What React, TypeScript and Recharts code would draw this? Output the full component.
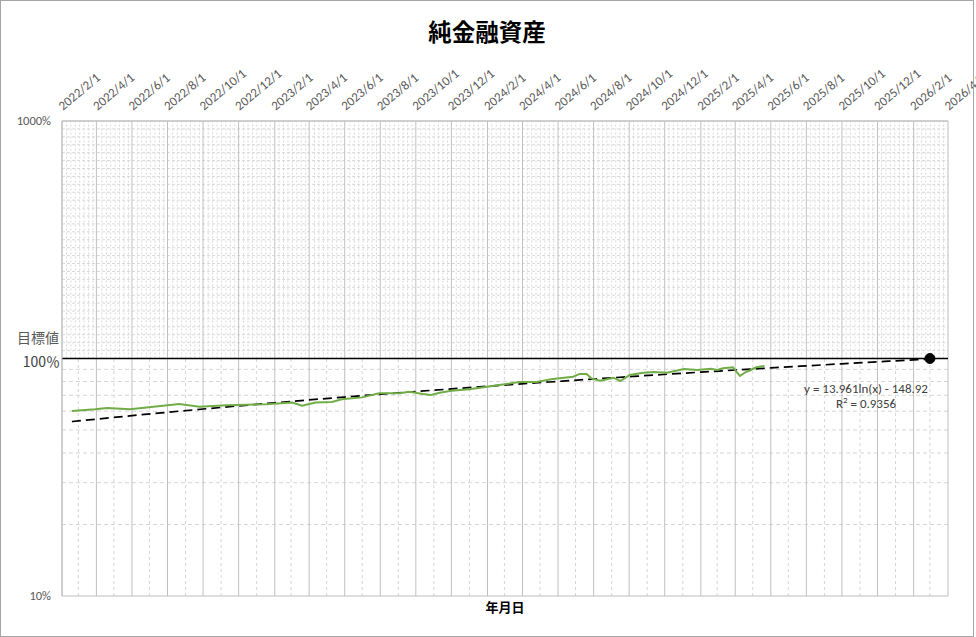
import React from 'react';
import { LineChart, Line, XAxis, YAxis, ReferenceLine, ReferenceDot } from 'recharts';

// ---- date helpers (Excel-style serial day numbers) ----
const EXCEL_EPOCH = Date.UTC(1899, 11, 30);
const DAY = 86400000;
const toSerial = (s: string): number => {
  const [y, m, d] = s.split('/').map(Number);
  return Math.round((Date.UTC(y, m - 1, d) - EXCEL_EPOCH) / DAY);
};
const fromSerial = (n: number): string => {
  const dt = new Date(EXCEL_EPOCH + n * DAY);
  return `${dt.getUTCFullYear()}/${dt.getUTCMonth() + 1}/${dt.getUTCDate()}`;
};

// ---- axis ----
const axisStart = '2022/2/1';
const axisEnd = '2026/4/1';
const tickLabels = [
  '2022/2/1', '2022/4/1', '2022/6/1', '2022/8/1', '2022/10/1', '2022/12/1',
  '2023/2/1', '2023/4/1', '2023/6/1', '2023/8/1', '2023/10/1', '2023/12/1',
  '2024/2/1', '2024/4/1', '2024/6/1', '2024/8/1', '2024/10/1', '2024/12/1',
  '2025/2/1', '2025/4/1', '2025/6/1', '2025/8/1', '2025/10/1', '2025/12/1',
  '2026/2/1', '2026/4/1',
];
const monthLabels = [
  '2022/3/1', '2022/5/1', '2022/7/1', '2022/9/1', '2022/11/1',
  '2023/1/1', '2023/3/1', '2023/5/1', '2023/7/1', '2023/9/1', '2023/11/1',
  '2024/1/1', '2024/3/1', '2024/5/1', '2024/7/1', '2024/9/1', '2024/11/1',
  '2025/1/1', '2025/3/1', '2025/5/1', '2025/7/1', '2025/9/1', '2025/11/1',
  '2026/1/1', '2026/3/1',
];
const yTicks = [10, 100, 1000];
const yMinor = [20, 30, 40, 50, 60, 70, 80, 90];

// ---- net financial assets (% of target) ----
const assetDates = [
  '2022/2/18', '2022/3/30', '2022/4/19', '2022/5/29', '2022/6/30', '2022/8/21',
  '2022/9/25', '2022/11/10', '2023/1/18', '2023/3/3', '2023/3/20', '2023/4/12',
  '2023/5/10', '2023/5/27', '2023/7/1', '2023/7/30', '2023/9/3', '2023/9/20',
  '2023/10/13', '2023/10/27', '2023/11/11', '2023/12/1', '2024/1/1', '2024/1/31',
  '2024/3/27', '2024/4/25', '2024/5/23', '2024/6/27', '2024/7/8', '2024/7/20',
  '2024/7/28', '2024/8/12', '2024/8/24', '2024/9/4', '2024/9/16', '2024/10/2',
  '2024/10/25', '2024/11/12', '2024/12/5', '2025/1/3', '2025/1/26', '2025/2/18',
  '2025/3/1', '2025/3/11', '2025/3/28', '2025/4/3', '2025/4/9', '2025/4/20',
  '2025/4/26', '2025/5/7', '2025/5/21',
];
const assetValues = [
  60.1, 61.1, 61.9, 61.1, 62.3, 64.3,
  62.7, 63.5, 64.2, 65.2, 63.3, 65.2,
  65.6, 67.3, 68.6, 71.4, 71.4, 72.5,
  70.9, 70.2, 71.8, 73.2, 74.2, 76.1,
  79.6, 79.6, 82.0, 83.8, 86.1, 86.1,
  82.5, 80.6, 81.8, 83.0, 80.4, 85.2,
  87.1, 87.7, 87.1, 90.3, 89.5, 90.6,
  89.5, 90.9, 91.8, 88.0, 84.4, 88.0,
  89.0, 91.8, 93.0,
];

// ---- logarithmic trend: y = 13.961 ln(x) - 148.92 ----
const trendSlope = 13.961;
const trendIntercept = -148.92;
const trendR2 = '0.9356';
const trendDates = [
  '2022/2/18', '2022/6/1', '2022/10/1', '2023/2/1', '2023/6/1', '2023/10/1',
  '2024/2/1', '2024/6/1', '2024/10/1', '2025/2/1', '2025/6/1', '2025/10/1',
  '2026/3/1',
];

// ---- target ----
const targetDate = '2026/3/1';
const targetValue = 100;

const xMin = toSerial(axisStart);
const xMax = toSerial(axisEnd);
const tickSerials = tickLabels.map(toSerial);
const monthSerials = monthLabels.map(toSerial);

const assetData = assetDates.map((d, i) => ({ x: toSerial(d), v: assetValues[i] }));
const trendData = trendDates.map((d) => {
  const s = toSerial(d);
  return { x: s, v: (trendSlope * Math.log(s) + trendIntercept) * 100 };
});

// fine grid in the upper decade
const fineCols: number[] = [];
for (let k = 1; k < 200; k++) if (k % 8 !== 0) fineCols.push(xMin + ((xMax - xMin) * k) / 200);
const fineRows: number[] = [];
for (let k = 1; k < 30; k++) fineRows.push(Math.pow(10, 2 + k / 30));

const LATIN = 'Calibri, Carlito, Lato, "Noto Sans", sans-serif';
const CJK = '"Noto Sans CJK JP", "Noto Sans", sans-serif';

const TopTick = (props: any) => {
  const { x, y, payload } = props;
  const tx = x + 1;
  const ty = y - 10;
  return (
    <text x={tx} y={ty} transform={`rotate(-40 ${tx} ${ty})`} textAnchor="start"
      fontSize={13} fill="#595959" fontFamily={LATIN}>
      {fromSerial(payload.value)}
    </text>
  );
};

const LeftTick = (props: any) => {
  const { x, y, payload } = props;
  const v = payload.value;
  if (v === 100) {
    return (
      <g>
        <text x={x - 3} y={y - 16} textAnchor="end" fontSize={14} fill="#595959" fontFamily={CJK}>目標値</text>
        <text x={x - 2} y={y + 8} textAnchor="end" fontSize={14} fill="#404040" fontFamily={CJK}>100％</text>
      </g>
    );
  }
  return (
    <text x={x - 11} y={y + 4} textAnchor="end" fontSize={12.5} fill="#595959" fontFamily={LATIN}>
      {`${v}%`}
    </text>
  );
};

export default function App() {
  return (
    <div style={{ position: 'absolute', left: 0, top: 0, width: 976, height: 637, background: '#fff', overflow: 'hidden' }}>
      <LineChart width={976} height={637} data={assetData}
        margin={{ top: 61, right: 28, bottom: 41, left: 0 }}>
        <XAxis dataKey="x" type="number" orientation="top" domain={[xMin, xMax]} ticks={tickSerials}
          interval={0} allowDataOverflow height={60} tickSize={0} tickMargin={0} tickLine={false}
          axisLine={{ stroke: '#bfbfbf' }} tick={<TopTick />} />
        <YAxis type="number" scale="log" domain={[10, 1000]} ticks={yTicks} allowDataOverflow width={62}
          tickSize={0} tickMargin={0} tickLine={false} axisLine={{ stroke: '#bfbfbf' }} tick={<LeftTick />} />

        {/* upper decade: dense grid */}
        {fineRows.map((v) => (
          <ReferenceLine key={`fr${v}`} y={v} stroke="#d9d9d9" strokeDasharray="3 2" />
        ))}
        {fineCols.map((s) => (
          <ReferenceLine key={`fc${s}`} segment={[{ x: s, y: 100 }, { x: s, y: 1000 }]}
            stroke="#d9d9d9" strokeDasharray="2 2" />
        ))}
        {/* lower decade: log minor rows and monthly columns */}
        {yMinor.map((v) => (
          <ReferenceLine key={`mr${v}`} y={v} stroke="#d6d6d6" strokeDasharray="4 3" />
        ))}
        {monthSerials.map((s) => (
          <ReferenceLine key={`mc${s}`} segment={[{ x: s, y: 10 }, { x: s, y: 100 }]}
            stroke="#d6d6d6" strokeDasharray="3 3" />
        ))}
        {/* major columns every two months */}
        {tickSerials.map((s) => (
          <ReferenceLine key={`tc${s}`} x={s} stroke="#c0c0c0" />
        ))}
        <ReferenceLine y={10} stroke="#bfbfbf" />
        <ReferenceLine y={1000} stroke="#bfbfbf" />
        <ReferenceLine y={targetValue} stroke="#000" strokeWidth={1.5} />

        <Line data={trendData} dataKey="v" stroke="#000" strokeWidth={1.7} strokeDasharray="9 5"
          dot={false} isAnimationActive={false} type="monotone" />
        <Line data={assetData} dataKey="v" stroke="#70AD47" strokeWidth={2}
          dot={false} isAnimationActive={false} />
        <ReferenceDot x={toSerial(targetDate)} y={targetValue} r={5} fill="#000" stroke="#000" />
      </LineChart>

      <div style={{ position: 'absolute', left: 0, top: 15, width: 974, textAlign: 'center',
        fontFamily: CJK, fontWeight: 700, fontSize: 23.5, color: '#000', lineHeight: '32px' }}>
        純金融資産
      </div>
      <div style={{ position: 'absolute', left: 62, top: 598, width: 886, textAlign: 'center',
        fontFamily: CJK, fontWeight: 700, fontSize: 13, color: '#000', lineHeight: '18px' }}>
        年月日
      </div>
      <div style={{ position: 'absolute', left: 766, top: 382, width: 200, textAlign: 'center',
        fontFamily: LATIN, fontSize: 13, color: '#404040', lineHeight: '14px' }}>
        y = 13.961ln(x) - 148.92
      </div>
      <div style={{ position: 'absolute', left: 766, top: 397, width: 200, textAlign: 'center',
        fontFamily: LATIN, fontSize: 13, color: '#404040', lineHeight: '14px' }}>
        R<span style={{ fontSize: 9, position: 'relative', top: -5 }}>2</span> = {trendR2}
      </div>
      <div style={{ position: 'absolute', left: 0, top: 0, width: 974, height: 637, boxSizing: 'border-box',
        border: '1px solid #a6a6a6', pointerEvents: 'none' }} />
    </div>
  );
}
